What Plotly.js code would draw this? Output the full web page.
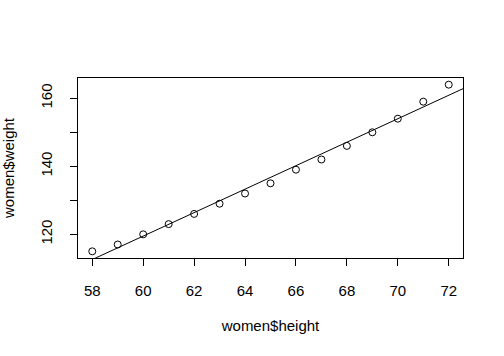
<!DOCTYPE html>
<html><head><meta charset="utf-8">
<script src="https://cdn.plot.ly/plotly-3.0.1.min.js"></script>
<style>html,body{margin:0;padding:0;background:#fff}</style>
</head><body><div id="chart" style="width:504px;height:356px"></div>
<script>
const height = [58,59,60,61,62,63,64,65,66,67,68,69,70,71,72];
const weight = [115,117,120,123,126,129,132,135,139,142,146,150,154,159,164];
const xTicks = [58,60,62,64,66,68,70,72];
const yTicks = [120,130,140,150,160];
const yTickText = ['120','','140','','160'];

// least squares fit (like abline(lm(weight ~ height)))
const n = height.length;
const mx = height.reduce((a,b)=>a+b,0)/n, my = weight.reduce((a,b)=>a+b,0)/n;
let sxy=0, sxx=0;
for (let i=0;i<n;i++){ sxy += (height[i]-mx)*(weight[i]-my); sxx += (height[i]-mx)**2; }
const slope = sxy/sxx, icpt = my - slope*mx;
// R-style 4% axis extension
const xmin=Math.min(...height), xmax=Math.max(...height), ymin=Math.min(...weight), ymax=Math.max(...weight);
const xr=[xmin-0.04*(xmax-xmin), xmax+0.04*(xmax-xmin)];
const yr=[ymin-0.04*(ymax-ymin), ymax+0.04*(ymax-ymin)];
const lineX=[xr[0]-1, xr[1]+1];
const lineY=lineX.map(v=>icpt+slope*v);

const font = {family:'"Liberation Sans", Arial, sans-serif', size:15, color:'#000'};
Plotly.newPlot('chart', [
  {x: height, y: weight, type:'scatter', mode:'markers',
   marker:{symbol:'circle-open', size:7, color:'#000', line:{width:1,color:'#000'}}, cliponaxis:true},
  {x: lineX, y: lineY, type:'scatter', mode:'lines', line:{color:'#000', width:1}}
], {
  width:504, height:356, showlegend:false,
  paper_bgcolor:'#fff', plot_bgcolor:'#fff', font: font,
  margin:{l:78, r:41, t:78, b:98, pad:0},
  xaxis:{range:xr, tickvals:xTicks, ticks:'outside', ticklen:7, tickcolor:'#000', tickwidth:1,
    showgrid:false, zeroline:false, showline:true, mirror:true, linecolor:'#000', linewidth:1,
    ticklabelstandoff:12, tickfont:font,
    title:{text:'women$height', font:font, standoff:22}},
  yaxis:{range:yr, tickvals:yTicks, ticktext:yTickText, tickangle:-90, ticks:'outside', ticklen:7, tickcolor:'#000', tickwidth:1,
    showgrid:false, zeroline:false, showline:true, mirror:true, linecolor:'#000', linewidth:1,
    ticklabelstandoff:12, tickfont:font,
    title:{text:'women$weight', font:font, standoff:22}}
}, {staticPlot:true, displayModeBar:false});
</script></body></html>
